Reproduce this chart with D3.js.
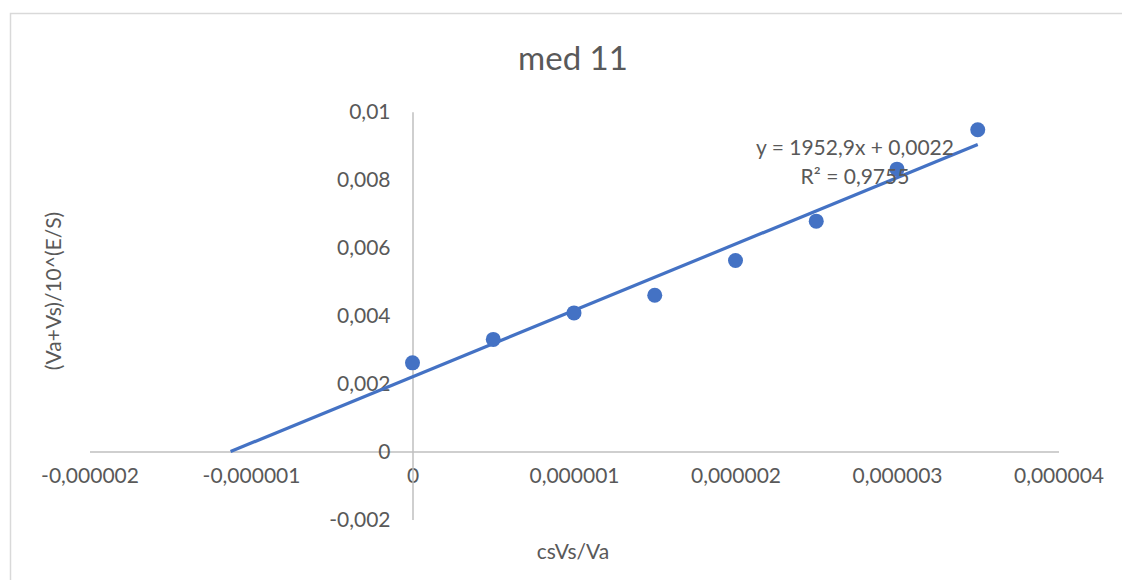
<!DOCTYPE html>
<html><head><meta charset="utf-8">
<script src="https://cdn.jsdelivr.net/npm/d3@7"></script>
<style>
html,body{margin:0;padding:0;background:#fff;}
svg{display:block;}
text{font-family:Lato,"Open Sans",sans-serif;fill:#595959;}
</style></head>
<body>
<svg id="chart" width="1122" height="580"></svg>
<script>
// ---- data ----
const xValues = [0, 0.0000005, 0.000001, 0.0000015, 0.000002, 0.0000025, 0.000003, 0.0000035];
const yValues = [0.00261, 0.00330, 0.00408, 0.00460, 0.00562, 0.00678, 0.00831, 0.00947];
const trendSlope = 1952.9;
const trendIntercept = 0.0022;
const trendXRange = [-0.0000011265, 0.0000035];
const xTicks = [-0.000002, -0.000001, 0, 0.000001, 0.000002, 0.000003, 0.000004];
const yTicks = [-0.002, 0, 0.002, 0.004, 0.006, 0.008, 0.01];
const titleText = "med 11";
const xLabel = "csVs/Va";
const yLabel = "(Va+Vs)/10^(E/S)";
const eqText = "y = 1952,9x + 0,0022";
const r2Text = "R² = 0,9755";

const locale = d3.formatLocale({decimal: ",", thousands: ".", grouping: [3], currency: ["", ""], minus: "-"});
const fx = locale.format(".6~f");
const fy = locale.format(".3~f");

const svg = d3.select("#chart");
const color = "#4472C4";

// chart border
svg.append("rect").attr("x", 10.5).attr("y", 13.5).attr("width", 1130).attr("height", 600)
  .attr("fill", "none").attr("stroke", "#d9d9d9").attr("stroke-width", 1.5);

const x = d3.scaleLinear().domain([-0.000002, 0.000004]).range([89.5, 1058.5]);
const y = d3.scaleLinear().domain([-0.002, 0.01]).range([519.5, 111.7]);

// x axis at y=0
const xAxis = svg.append("g").attr("transform", `translate(0,${y(0)})`)
  .call(d3.axisBottom(x).tickValues(xTicks).tickFormat(fx).tickSize(0).tickPadding(17));
xAxis.select(".domain").attr("stroke", "#bfbfbf").attr("stroke-width", 1.5);
xAxis.selectAll("text").style("font-size", "21px").attr("fill", "#595959").style("font-family", "Lato");

// y axis at x=0
const yAxis = svg.append("g").attr("transform", `translate(${x(0)},0)`)
  .call(d3.axisLeft(y).tickValues(yTicks).tickFormat(fy).tickSize(0).tickPadding(22));
yAxis.select(".domain").attr("stroke", "#bfbfbf").attr("stroke-width", 1.5);
yAxis.selectAll("text").style("font-size", "21px").attr("fill", "#595959").style("font-family", "Lato");

// trendline
const line = d3.line().x(d => x(d)).y(d => y(trendSlope * d + trendIntercept));
svg.append("path").datum(trendXRange).attr("d", line)
  .attr("fill", "none").attr("stroke", color).attr("stroke-width", 3.2);

// points
svg.append("g").selectAll("circle").data(xValues).join("circle")
  .attr("cx", d => x(d)).attr("cy", (d, i) => y(yValues[i])).attr("r", 7.5).attr("fill", color);

// equation
svg.append("text").attr("x", 855).attr("y", 155).attr("text-anchor", "middle")
  .style("font-size", "21px").text(eqText);
svg.append("text").attr("x", 855).attr("y", 184).attr("text-anchor", "middle")
  .style("font-size", "21px").text(r2Text);

// title
svg.append("text").attr("x", 573).attr("y", 70).attr("text-anchor", "middle")
  .style("font-size", "33px").text(titleText);

// axis titles
svg.append("text").attr("x", 573).attr("y", 559).attr("text-anchor", "middle")
  .style("font-size", "21px").text(xLabel);
svg.append("text").attr("transform", "translate(61,291) rotate(-90)").attr("text-anchor", "middle")
  .style("font-size", "21px").text(yLabel);
</script>
</body></html>
